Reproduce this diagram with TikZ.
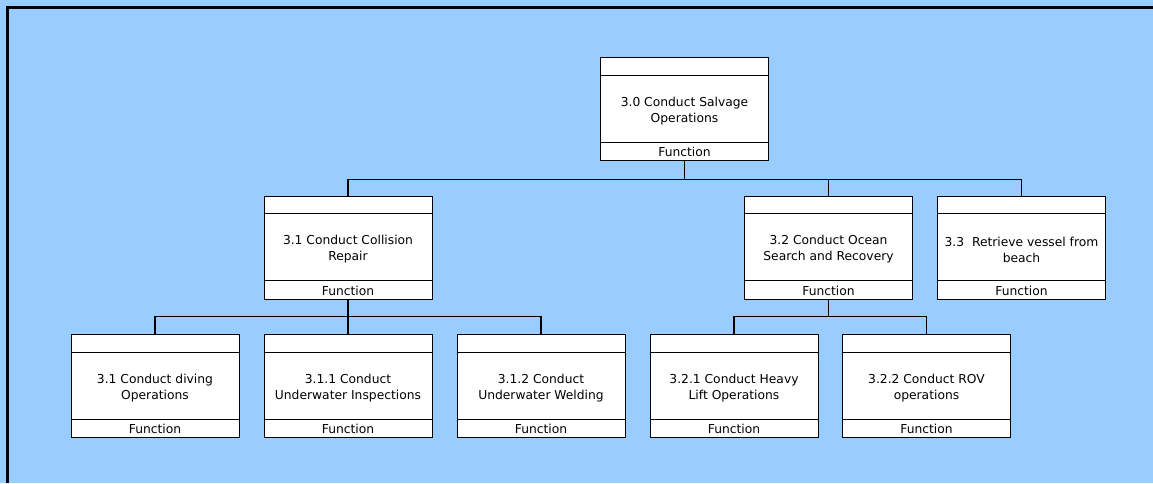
\documentclass[tikz,border=0pt]{standalone}
\usepackage{fontspec}
\setmainfont{DejaVu Sans}
\definecolor{bgblue}{RGB}{153,204,255}
\tikzset{
  fbox/.style={draw=black, fill=white, minimum width=168pt, minimum height=103pt, inner sep=0pt, line width=1pt},
  ftext/.style={align=center, font=\fontsize{12.3}{16}\selectfont, inner sep=0pt},
  flabel/.style={font=\fontsize{12.3}{14}\selectfont, inner sep=0pt},
  conn/.style={draw=black, line width=1.2pt}
}
\newcommand{\FunBox}[3]{%
  \node[fbox] (#1) at (#2) {};
  \draw[line width=1pt] ([yshift=-18pt]#1.north west) -- ([yshift=-18pt]#1.north east);
  \draw[line width=1pt] ([yshift=19pt]#1.south west) -- ([yshift=19pt]#1.south east);
  \node[ftext] (#1t) at ([yshift=-2pt]#1.center) {#3};
  \node[flabel] (#1f) at ([yshift=9pt]#1.south) {Function};
}
\begin{document}
\begin{tikzpicture}[x=1pt,y=-1pt]
\fill[bgblue] (0,0) rectangle (1153,483);
\useasboundingbox (0,0) rectangle (1153,483);
\draw[line width=3pt] (7.5,483) -- (7.5,7.5) -- (1153,7.5);
\FunBox{f30}{684.5,109}{3.0 Conduct Salvage\\Operations}
\FunBox{f31}{348,247.5}{3.1 Conduct Collision\\Repair}
\FunBox{f32}{828.5,247.5}{3.2 Conduct Ocean\\Search and Recovery}
\FunBox{f33}{1021.5,247.5}{3.3\ \ Retrieve vessel from\\beach}
\FunBox{f311}{155,386}{3.1 Conduct diving\\Operations}
\FunBox{f312}{348,386}{3.1.1 Conduct\\Underwater Inspections}
\FunBox{f313}{541,386}{3.1.2 Conduct\\Underwater Welding}
\FunBox{f321}{734,386}{3.2.1 Conduct Heavy\\Lift Operations}
\FunBox{f322}{926.5,386}{3.2.2 Conduct ROV\\operations}
\coordinate (b1) at (0,179.5);
\coordinate (b2) at (0,316.5);
\draw[conn] (f30.south) -- (f30.south |- b1);
\draw[conn] (f31.north) |- (b1 -| f30.south);
\draw[conn] (f32.north) -- (f32.north |- b1);
\draw[conn] (f33.north) |- (b1 -| f30.south);
\draw[conn] (f31.south) -- (f31.south |- b2);
\draw[conn] (f311.north) |- (b2 -| f31.south);
\draw[conn] (f312.north) -- (f312.north |- b2);
\draw[conn] (f313.north) |- (b2 -| f31.south);
\draw[conn] (f32.south) -- (f32.south |- b2);
\draw[conn] (f321.north) |- (b2 -| f32.south);
\draw[conn] (f322.north) |- (b2 -| f32.south);
\end{tikzpicture}
\end{document}
